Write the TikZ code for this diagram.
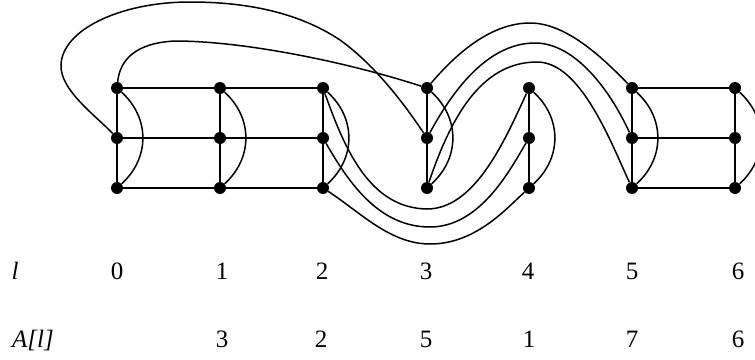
\documentclass[tikz,border=0pt]{standalone}
\usepackage{fontspec}
\setmainfont{Liberation Serif}
\begin{document}
\begin{tikzpicture}[x=1pt,y=-1pt,
  dot/.style={circle,fill=black,inner sep=0pt,minimum size=12pt},
  edge/.style={line width=1.5pt,black},
  lbl/.style={font=\fontsize{25}{25}\selectfont,anchor=base,inner sep=0pt}]
\useasboundingbox (0,0) rectangle (755,359);
\clip (0,0) rectangle (755,359);
% vertices
\foreach \i/\x in {0/117,1/220,2/323,3/427,4/529,5/632,6/735}{
  \node[dot] (c\i t) at (\x,88) {};
  \node[dot] (c\i m) at (\x,138) {};
  \node[dot] (c\i b) at (\x,188) {};
}
% columns
\foreach \i in {0,...,6}{
  \draw[edge] (c\i t) -- (c\i m) -- (c\i b);
  \draw[edge] (c\i t) .. controls +(33,30) and +(33,-30) .. (c\i b);
}
% rows
\foreach \r in {t,m,b}{
  \draw[edge] (c0\r) -- (c1\r) -- (c2\r);
  \draw[edge] (c5\r) -- (c6\r);
}
% long curves over the top
\draw[edge] (c0m) .. controls (95,115) and (60,90) .. (61,65)
  .. controls (62,30) and (120,2) .. (190,2)
  .. controls (240,2) and (295,10) .. (340,40)
  .. controls (375,65) and (405,105) .. (c3m);
\draw[edge] (c0t) .. controls (120,60) and (135,43) .. (175,41)
  .. controls (240,41) and (340,60) .. (c3t);
\draw[edge] (c3t) .. controls (455,55) and (490,23) .. (530,23)
  .. controls (565,23) and (600,55) .. (c5t);
\draw[edge] (c3m) .. controls (452,92) and (487,43) .. (535,43)
  .. controls (575,43) and (610,90) .. (c5m);
\draw[edge] (c3b) .. controls (450,120) and (480,62) .. (537,62)
  .. controls (580,62) and (610,140) .. (c5b);
% long curves underneath
\draw[edge] (c2t) .. controls (345,150) and (370,208) .. (427,209)
  .. controls (475,209) and (505,140) .. (c4t);
\draw[edge] (c2m) .. controls (350,185) and (380,227) .. (430,227)
  .. controls (480,227) and (510,170) .. (c4m);
\draw[edge] (c2b) .. controls (360,212) and (390,244) .. (430,244)
  .. controls (475,244) and (505,210) .. (c4b);
% labels
\node[lbl] (ll) at (15,279) {\itshape l};
\node[lbl] (AL) at (33,347) {\itshape A[l]};
\foreach \i/\x/\v in {0/117/0,1/222/1,2/322/2,3/426/3,4/528/4,5/632/5,6/738/6}{
  \node[lbl] (l\i) at (\x,279) {\v};
}
\foreach \i/\x/\v in {1/222/3,2/321/2,3/426/5,4/529/1,5/632/7,6/738/6}{
  \node[lbl] (a\i) at (\x,347) {\v};
}
\end{tikzpicture}
\end{document}
